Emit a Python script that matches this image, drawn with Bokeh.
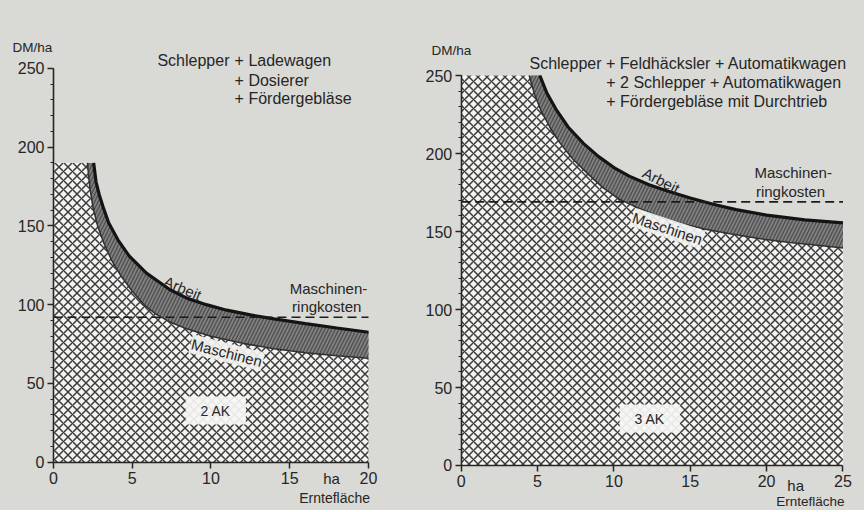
from bokeh.plotting import figure
from bokeh.layouts import row
from bokeh.models import Label, FixedTicker, Range1d
from bokeh.embed import file_html
from bokeh.resources import INLINE

# ---------------- data ----------------
# Left panel: Schlepper + Ladewagen (2 AK), area 0..20 ha
l_x_ticks = [0, 5, 10, 15, 20]
y_ticks = [0, 50, 100, 150, 200, 250]
y_minor = [v for v in range(0, 251, 10)]

l_masch_x = [0, 2.15, 2.3, 2.5, 2.8, 3.2, 3.7, 4.3, 5.0, 5.8, 6.5, 7.5, 8.5, 10, 12, 14, 16, 18, 20]
l_masch_y = [190, 190, 175, 162, 150, 139, 128, 118, 108.5, 99.5, 94, 88.5, 84.5, 80, 75.5, 72, 69.5, 67.5, 66]
l_total_x = [2.55, 2.7, 2.9, 3.15, 3.5, 4.1, 4.8, 5.9, 7.4, 8.5, 9.7, 11, 12.5, 14, 16, 18, 20]
l_total_y = [190, 178, 170, 162, 152, 141, 131, 120, 109.5, 104, 100, 96.5, 93.5, 91, 88, 85.2, 82.5]
l_ring_x = [0, 20]
l_ring_y = [92, 92]

# Right panel: Schlepper + Feldhäcksler ... (3 AK), area 0..25 ha
r_x_ticks = [0, 5, 10, 15, 20, 25]
r_masch_x = [0, 4.45, 4.8, 5.25, 5.8, 6.45, 7.3, 8.4, 9.3, 10.4, 11.5, 13, 14.5, 16, 17.6, 19.5, 21.5, 23.5, 25]
r_masch_y = [250, 250, 238, 227, 217, 207, 196.5, 186, 178, 170.5, 165.5, 159.5, 155, 151.5, 148.5, 145.5, 143, 141, 139.5]
r_total_x = [5.15, 5.6, 6.2, 7.0, 8.0, 9.0, 10.0, 11.0, 12.3, 13.5, 15, 16.5, 18, 20, 22.5, 25]
r_total_y = [250, 239, 228.5, 217, 206.5, 198, 191, 185.5, 180, 176, 171.5, 167.5, 164, 160.5, 157.5, 155.5]
r_ring_x = [0, 25]
r_ring_y = [169, 169]

BG = "#d9d9d5"
INK = "#262626"
FONT = "Liberation Sans"


def make_fig(width, height, xr, yr, xmax, xticks):
    p = figure(width=width, height=height, x_range=Range1d(*xr), y_range=Range1d(*yr),
               output_backend="svg", toolbar_location=None,
               min_border_left=0, min_border_right=0, min_border_top=0, min_border_bottom=0)
    p.background_fill_color = BG
    p.border_fill_color = BG
    p.outline_line_color = None
    p.grid.visible = False
    p.xaxis.ticker = FixedTicker(ticks=xticks)
    p.yaxis.ticker = FixedTicker(ticks=y_ticks, minor_ticks=y_minor)
    p.xaxis.fixed_location = 0
    p.yaxis.fixed_location = 0
    p.xaxis.bounds = (0, xmax)
    p.yaxis.bounds = (0, 250)
    for ax in (p.xaxis[0], p.yaxis[0]):
        ax.axis_line_color = INK
        ax.axis_line_width = 1.6
        ax.major_tick_line_color = INK
        ax.major_tick_line_width = 1.5
        ax.major_tick_out = 6
        ax.major_tick_in = 0
        ax.minor_tick_line_color = INK
        ax.minor_tick_out = 3
        ax.minor_tick_in = 0
        ax.major_label_text_font = FONT
        ax.major_label_text_font_size = "16px"
        ax.major_label_text_color = INK
    p.xaxis.minor_tick_line_color = None
    p.yaxis.major_label_standoff = 3
    p.xaxis.major_label_standoff = 4
    return p


def draw_panel(p, mx, my, tx, ty, rx, ry):
    # machine costs (cross hatched)
    p.varea(x=mx, y1=0, y2=my, fill_color="#f3f3f1", hatch_pattern="x",
            hatch_color="#3a3a3a", hatch_scale=9, hatch_weight=1.5)
    # labour band between curves
    p.patch(x=tx + mx[::-1][:-1], y=ty + my[::-1][:-1], fill_color="#808080",
            hatch_pattern="/", hatch_color="#4e4e4e", hatch_scale=7, hatch_weight=1.3,
            line_color=None)
    p.line(mx[1:], my[1:], line_color="#303030", line_width=1.5)
    p.line(tx, ty, line_color="#141414", line_width=3.2)
    p.line(rx, ry, line_color="#1c1c1c", line_width=1.6, line_dash="9 5")


def lab(p, x, y, text, size="16px", align="left", angle=0.0, bg=None, pad=0, baseline="middle"):
    kw = {}
    if bg is not None:
        kw.update(background_fill_color=bg, background_fill_alpha=0.92, padding=pad)
    p.add_layout(Label(x=x, y=y, text=text, text_font=FONT, text_font_size=size,
                       text_color=INK, text_align=align, text_baseline=baseline,
                       angle=angle, **kw))


H = 510
# ---------- left figure (canvas page x 0..410) ----------
p1 = make_fig(410, H, (-3.365, 22.667), (-30.67, 293.1), 20, l_x_ticks)
draw_panel(p1, l_masch_x, l_masch_y, l_total_x, l_total_y, l_ring_x, l_ring_y)
lab(p1, -2.6, 263, "DM/ha", size="13.5px")
lab(p1, 6.6, 255, "Schlepper")
lab(p1, 11.5, 255, "+ Ladewagen")
lab(p1, 11.5, 242.5, "+ Dosierer")
lab(p1, 11.5, 231, "+ Fördergebläse")
lab(p1, 15.0, 110.5, "Maschinen-", size="15px")
lab(p1, 15.15, 99, "ringkosten", size="15px")
lab(p1, 8.2, 110.5, "Arbeit", size="15px", angle=-0.4, align="center")
lab(p1, 11.0, 69.5, "Maschinen", size="15px", angle=-0.25, align="center", bg="#f2f2f0", pad=1)
lab(p1, 10.3, 32.8, "2 AK", size="14px", align="center", bg="#f6f6f4",
    pad=dict(left=15, right=15, top=6, bottom=6))
lab(p1, 17.65, -10.5, "ha", size="15px", align="center")
lab(p1, 20.1, -22.6, "Erntefläche", size="14px", align="right")

# ---------- right figure (canvas page x ~411..865) ----------
p2 = make_fig(454, H, (-3.32, 26.41), (-28.85, 298.1), 25, r_x_ticks)
draw_panel(p2, r_masch_x, r_masch_y, r_total_x, r_total_y, r_ring_x, r_ring_y)
lab(p2, -1.95, 266, "DM/ha", size="13.5px")
lab(p2, 4.47, 257.7, "Schlepper + Feldhäcksler + Automatikwagen")
lab(p2, 9.5, 245.5, "+ 2 Schlepper + Automatikwagen")
lab(p2, 9.5, 233.3, "+ Fördergebläse mit Durchtrieb")
lab(p2, 19.2, 188, "Maschinen-", size="15px")
lab(p2, 19.3, 175.6, "ringkosten", size="15px")
lab(p2, 13.1, 182.7, "Arbeit", size="15px", angle=-0.47, align="center")
lab(p2, 13.5, 152, "Maschinen", size="15px", angle=-0.32, align="center", bg="#f2f2f0", pad=1)
lab(p2, 12.35, 30.1, "3 AK", size="14px", align="center", bg="#f6f6f4",
    pad=dict(left=15, right=15, top=6, bottom=6))
lab(p2, 21.9, -12.8, "ha", size="15px", align="center")
lab(p2, 25.1, -23.2, "Erntefläche", size="13.5px", align="right")

layout = row(p1, p2, spacing=0, styles={"background-color": BG})
open("out.html", "w").write(file_html(layout, INLINE))
